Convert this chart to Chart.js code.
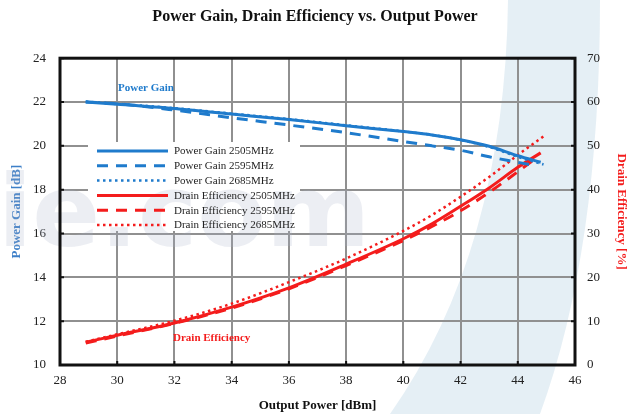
<!DOCTYPE html>
<html>
<head>
<meta charset="utf-8">
<script src="https://cdn.jsdelivr.net/npm/chart.js@4"></script>
<style>
  html, body { margin: 0; padding: 0; background: #fff; }
</style>
</head>
<body>
<canvas id="gainChart" width="630" height="414"></canvas>
<script>
// Values
const gain2505Pout = [28.9, 30, 32, 34, 36, 38, 40, 41, 42, 43, 44, 44.8];
const gain2505 = [22.0, 21.9, 21.7, 21.45, 21.2, 20.92, 20.65, 20.5, 20.28, 19.98, 19.55, 19.25];
const gain2595Pout = [28.9, 30, 32, 34, 36, 38, 40, 41, 42, 43, 44, 44.6];
const gain2595 = [22.0, 21.92, 21.63, 21.28, 20.95, 20.6, 20.2, 20.0, 19.8, 19.5, 19.25, 19.1];
const gain2685Pout = [28.9, 30, 32, 34, 36, 38, 40, 41, 42, 43, 44, 44.9];
const gain2685 = [22.02, 21.92, 21.72, 21.47, 21.22, 20.94, 20.66, 20.5, 20.27, 19.95, 19.5, 19.15];

const eff2505Pout = [28.9, 30, 32, 34, 36, 38, 40, 41, 42, 43, 44, 44.8];
const eff2505 = [5.2, 6.8, 9.6, 13.2, 17.6, 23.0, 28.8, 32.2, 36.2, 40.4, 45.1, 48.4];
const eff2595Pout = [28.9, 30, 32, 34, 36, 38, 40, 41, 42, 43, 44, 44.7];
const eff2595 = [5.0, 6.6, 9.5, 13.0, 17.4, 22.7, 28.4, 31.6, 35.2, 39.4, 44.1, 47.5];
const eff2685Pout = [28.9, 30, 32, 34, 36, 38, 40, 41, 42, 43, 44, 44.95];
const eff2685 = [5.3, 7.0, 10.1, 14.0, 18.9, 24.3, 30.6, 34.2, 38.4, 42.9, 47.9, 52.4];

const seriesLabels = [
  'Power Gain 2505MHz', 'Power Gain 2595MHz', 'Power Gain 2685MHz',
  'Drain Efficiency 2505MHz', 'Drain Efficiency 2595MHz', 'Drain Efficiency 2685MHz'
];

const BLUE = '#1f7bcc';
const RED = '#f41c1c';
const SERIF = "'Liberation Serif', 'Times New Roman', serif";

function toPoints(xs, ys) {
  return xs.map((x, i) => ({ x: x, y: ys[i] }));
}

function makeSet(label, xs, ys, color, dash, width, axis) {
  return {
    label: label,
    data: toPoints(xs, ys),
    borderColor: color,
    backgroundColor: color,
    borderWidth: width,
    borderDash: dash,
    borderCapStyle: 'butt',
    pointRadius: 0,
    cubicInterpolationMode: 'monotone',
    yAxisID: axis
  };
}

// light blue band of the watermark, under everything
const band = {
  id: 'band',
  beforeDraw(chart) {
    const ctx = chart.ctx;
    ctx.save();
    ctx.fillStyle = 'rgba(190, 215, 230, 0.4)';
    ctx.beginPath();
    ctx.moveTo(390, 414);
    ctx.quadraticCurveTo(505, 250, 508, 0);
    ctx.lineTo(600, 0);
    ctx.quadraticCurveTo(600, 250, 540, 414);
    ctx.closePath();
    ctx.fill();
    ctx.restore();
  }
};

// white legend box with line samples, inside the plot
const legendBox = {
  id: 'legendBox',
  beforeDatasetsDraw(chart) {
    const ctx = chart.ctx;
    ctx.save();
    ctx.fillStyle = '#fff';
    ctx.fillRect(88, 142, 212, 89);
    // grey watermark letters show through the legend box
    ctx.fillStyle = 'rgba(170, 178, 200, 0.22)';
    ctx.font = 'bold 100px "DejaVu Sans", sans-serif';
    ctx.textBaseline = 'alphabetic';
    ctx.fillText('ie.com', -2, 246);

    ctx.font = '11px ' + SERIF;
    ctx.textBaseline = 'middle';
    chart.data.datasets.forEach((ds, i) => {
      const y = 151 + i * 14.8;
      ctx.beginPath();
      ctx.strokeStyle = ds.borderColor;
      ctx.lineWidth = ds.borderWidth;
      ctx.setLineDash(ds.borderDash);
      ctx.moveTo(97, y);
      ctx.lineTo(168, y);
      ctx.stroke();
      ctx.setLineDash([]);
      ctx.fillStyle = '#222';
      ctx.fillText(ds.label, 174, y + 0.5);
    });
    // curve captions
    ctx.font = 'bold 11px ' + SERIF;
    ctx.fillStyle = BLUE;
    ctx.fillText('Power Gain', 118, 88);
    ctx.fillStyle = RED;
    ctx.fillText('Drain Efficiency', 173, 338);
    ctx.restore();
  }
};

// black frame with short inward ticks
const frame = {
  id: 'frame',
  afterDatasetsDraw(chart) {
    const { ctx, chartArea: a, scales } = chart;
    ctx.save();
    ctx.strokeStyle = '#111';
    ctx.lineWidth = 2;
    ctx.beginPath();
    scales.x.ticks.forEach(t => {
      const px = scales.x.getPixelForValue(t.value);
      ctx.moveTo(px, a.bottom); ctx.lineTo(px, a.bottom - 4);
    });
    scales.y.ticks.forEach(t => {
      const py = scales.y.getPixelForValue(t.value);
      ctx.moveTo(a.left, py); ctx.lineTo(a.left + 4, py);
      ctx.moveTo(a.right, py); ctx.lineTo(a.right - 4, py);
    });
    ctx.stroke();
    ctx.lineWidth = 3;
    ctx.strokeRect(a.left, a.top, a.right - a.left, a.bottom - a.top);
    ctx.restore();
  }
};

const ctx = document.getElementById('gainChart');
new Chart(ctx.getContext('2d'), {
  type: 'line',
  data: {
    datasets: [
      makeSet(seriesLabels[0], gain2505Pout, gain2505, BLUE, [], 3, 'y'),
      makeSet(seriesLabels[1], gain2595Pout, gain2595, BLUE, [11, 8], 3, 'y'),
      makeSet(seriesLabels[2], gain2685Pout, gain2685, BLUE, [2.5, 3.5], 2.5, 'y'),
      makeSet(seriesLabels[3], eff2505Pout, eff2505, RED, [], 3, 'y1'),
      makeSet(seriesLabels[4], eff2595Pout, eff2595, RED, [11, 8], 3, 'y1'),
      makeSet(seriesLabels[5], eff2685Pout, eff2685, RED, [2.5, 3.5], 2.5, 'y1')
    ]
  },
  options: {
    responsive: false,
    devicePixelRatio: 1,
    animation: false,
    layout: { padding: 0 },
    plugins: {
      legend: { display: false },
      tooltip: { enabled: false },
      title: {
        display: true,
        text: 'Power Gain, Drain Efficiency vs. Output Power',
        color: '#111',
        font: { family: SERIF, size: 16, weight: 'bold' },
        padding: { top: 7, bottom: 32 }
      }
    },
    scales: {
      x: {
        type: 'linear',
        min: 28,
        max: 46,
        ticks: { stepSize: 2, color: '#222', padding: 8, font: { family: SERIF, size: 13 } },
        grid: { color: '#909090', lineWidth: 2, drawTicks: false },
        border: { display: false },
        title: {
          display: true,
          text: 'Output Power [dBm]',
          color: '#111',
          font: { family: SERIF, size: 13, weight: 'bold' },
          padding: { top: 0, bottom: 1 }
        },
        afterFit(scale) { scale.height = 49; }
      },
      y: {
        position: 'left',
        min: 10,
        max: 24,
        ticks: { stepSize: 2, color: '#222', padding: 14, font: { family: SERIF, size: 13 } },
        grid: { color: '#909090', lineWidth: 2, drawTicks: false },
        border: { display: false },
        title: {
          display: true,
          text: 'Power Gain [dB]',
          color: '#3d7fc8',
          font: { family: SERIF, size: 13, weight: 'bold' },
          padding: { top: 9, bottom: 0 }
        },
        afterFit(scale) { scale.width = 60; }
      },
      y1: {
        position: 'right',
        min: 0,
        max: 70,
        ticks: { stepSize: 10, color: '#222', padding: 12, font: { family: SERIF, size: 13 } },
        grid: { drawOnChartArea: false, drawTicks: false },
        border: { display: false },
        title: {
          display: true,
          text: 'Drain Efficiency [%]',
          color: RED,
          font: { family: SERIF, size: 13, weight: 'bold' },
          padding: { top: 1, bottom: 0 }
        },
        afterFit(scale) { scale.width = 55; }
      }
    }
  },
  plugins: [band, legendBox, frame]
});
</script>
</body>
</html>
